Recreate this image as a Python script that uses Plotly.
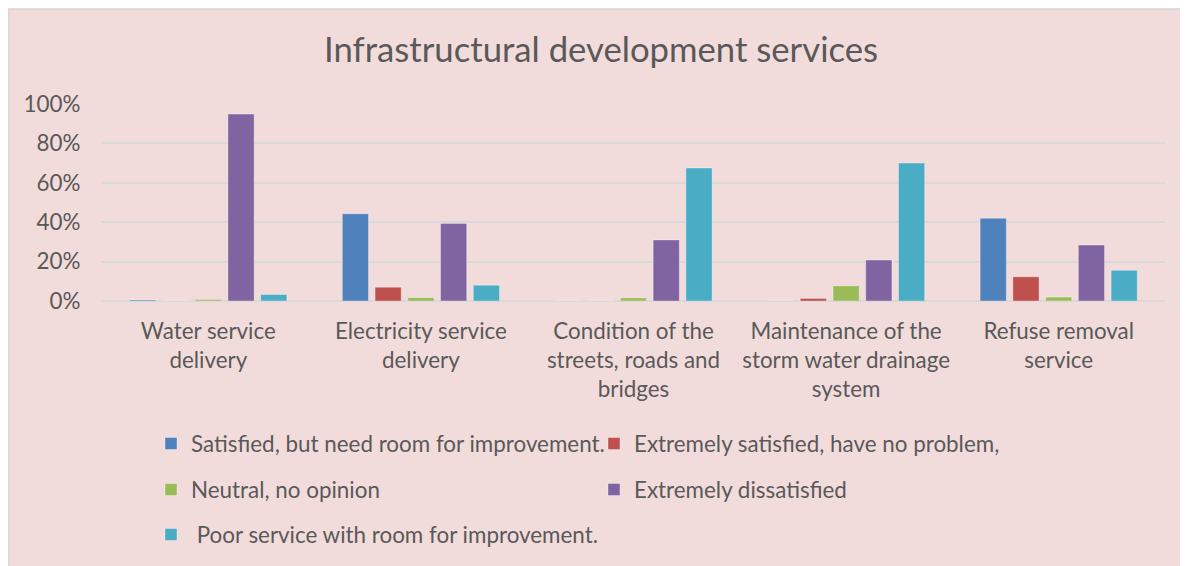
import plotly.graph_objects as go

# Categories (x axis) and series values (fractions)
categories = [
    "Water service<br>delivery",
    "Electricity service<br>delivery",
    "Condition of the<br>streets, roads and<br>bridges",
    "Maintenance of the<br>storm water drainage<br>system",
    "Refuse removal<br>service",
]
satisfied = [0.005, 0.443, 0.0, 0.0, 0.42]
extremely_satisfied = [0.0, 0.07, 0.0, 0.013, 0.123]
neutral = [0.008, 0.017, 0.016, 0.077, 0.02]
dissatisfied = [0.949, 0.394, 0.31, 0.208, 0.284]
poor_service = [0.033, 0.08, 0.675, 0.70, 0.156]

series_names = [
    "Satisfied, but need room for improvement.",
    "Extremely satisfied, have no problem,",
    "Neutral, no opinion",
    "Extremely dissatisfied",
    "\u00a0Poor service with room for improvement.",
]
series_values = [satisfied, extremely_satisfied, neutral, dissatisfied, poor_service]
series_colors = ["#4F81BD", "#C0504D", "#9BBB59", "#8064A2", "#4BACC6"]
legend_ids = ["legend", "legend", "legend2", "legend2", "legend3"]

FONT = "Lato"
TEXT = "#595959"
PINK = "#F2DCDB"
GRID = "#D9D9D9"

fig = go.Figure()
for name, vals, color, lg in zip(series_names, series_values, series_colors, legend_ids):
    fig.add_trace(go.Bar(
        x=categories,
        y=vals,
        name=name,
        marker=dict(color=color, line=dict(color="rgba(255,255,255,0.35)", width=1)),
        legend=lg,
    ))

# page body adds an 8px margin, so the figure is sized to the remaining space
W, H = 1188, 558
L, R, T, B = 94, 31, 96, 264
pw, ph = W - L - R, H - T - B
def px_x(x):
    return (x - L) / pw
def px_y(y):
    return (H - B - y) / ph

# thin grey frame on the left and top edges of the chart box
fig.add_shape(type="rect", xref="paper", yref="paper",
              x0=px_x(0.75), x1=px_x(W + 10), y0=px_y(H + 10), y1=px_y(0.75),
              fillcolor="rgba(0,0,0,0)", line=dict(color=GRID, width=1.5), layer="below")

legend_common = dict(
    orientation="h",
    entrywidth=398,
    entrywidthmode="pixels",
    font=dict(family=FONT, size=22.4, color=TEXT),
    bgcolor="rgba(0,0,0,0)",
    xanchor="left",
    yanchor="middle",
    x=px_x(143),
)

fig.update_layout(
    width=W,
    height=H,
    margin=dict(l=L, r=R, t=T, b=B),
    paper_bgcolor=PINK,
    plot_bgcolor="rgba(0,0,0,0)",
    font=dict(family=FONT, size=22.4, color=TEXT),
    title=dict(
        text="Infrastructural development services",
        font=dict(family=FONT, size=34.7, color=TEXT),
        x=593 / W, xref="container", xanchor="center",
        y=1 - 42 / H, yref="container", yanchor="middle",
    ),
    barmode="group",
    bargap=0.23,
    bargroupgap=0.2,
    legend=dict(legend_common, y=px_y(436)),
    legend2=dict(legend_common, y=px_y(482)),
    legend3=dict(legend_common, y=px_y(527), entrywidth=600),
    xaxis=dict(
        showgrid=False,
        showline=False,
        ticks="outside",
        ticklen=10,
        tickcolor="rgba(0,0,0,0)",
        tickfont=dict(family=FONT, size=22.4, color=TEXT),
    ),
    yaxis=dict(
        range=[0, 1],
        dtick=0.2,
        tickformat=".0%",
        showgrid=True,
        gridcolor=GRID,
        gridwidth=1.5,
        zeroline=True,
        zerolinecolor=GRID,
        zerolinewidth=1.5,
        showline=False,
        ticks="outside",
        ticklen=16,
        tickcolor="rgba(0,0,0,0)",
        tickfont=dict(family=FONT, size=22.4, color=TEXT),
    ),
)

fig.write_html("out.html")
